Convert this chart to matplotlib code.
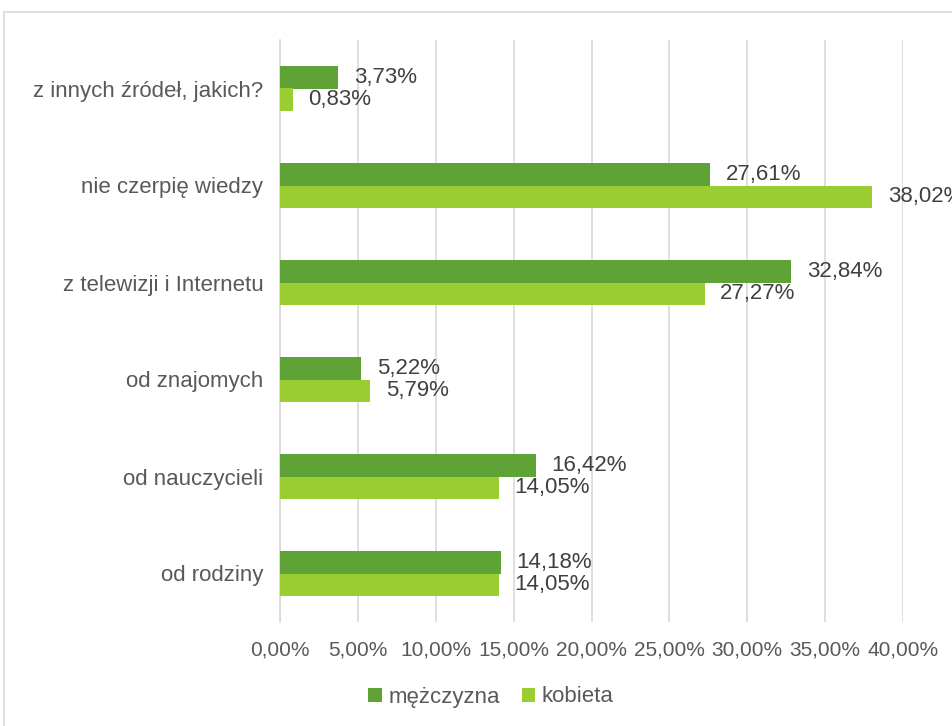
import matplotlib.pyplot as plt
import matplotlib
from matplotlib.patches import Rectangle
from matplotlib.ticker import FuncFormatter
import numpy as np

# dane
kategorie = ["od rodziny", "od nauczycieli", "od znajomych", "z telewizji i Internetu",
             "nie czerpię wiedzy", "z innych źródeł, jakich?"]
mezczyzna = [14.18, 16.42, 5.22, 32.84, 27.61, 3.73]
kobieta = [14.05, 14.05, 5.79, 27.27, 38.02, 0.83]
serie = ["mężczyzna", "kobieta"]

kolor_m = "#5FA336"
kolor_k = "#9ACD32"

matplotlib.rcParams["font.family"] = ["Liberation Sans", "DejaVu Sans"]

fig = plt.figure(figsize=(9.53, 7.26), dpi=100)
W, H = 953, 726
ax = fig.add_axes([280 / W, 1 - 622 / H, (903 - 280) / W, (622 - 40) / H])

# ramka wykresu (ucięta z prawej i od dołu)
fig.patches.append(Rectangle((4 / W, -0.1), 1.2, 1 - 12 / H + 0.1, transform=fig.transFigure,
                             fill=False, edgecolor="#D9D9D9", linewidth=1.2))

y = np.arange(len(kategorie))
h = 0.235
ax.barh(y + h / 2, mezczyzna, height=h, color=kolor_m, label=serie[0], zorder=3)
ax.barh(y - h / 2, kobieta, height=h, color=kolor_k, label=serie[1], zorder=3)

for i in range(len(kategorie)):
    ax.text(mezczyzna[i] + 1.0, y[i] + h / 2, ("%.2f%%" % mezczyzna[i]).replace(".", ","),
            va="center", ha="left", fontsize=16, color="#404040", clip_on=False)
    ax.text(kobieta[i] + 1.0, y[i] - h / 2, ("%.2f%%" % kobieta[i]).replace(".", ","),
            va="center", ha="left", fontsize=16, color="#404040", clip_on=False)

ax.set_xlim(0, 40)
ax.set_ylim(-0.5, len(kategorie) - 0.5)
ax.set_xticks(np.arange(0, 41, 5))
ax.xaxis.set_major_formatter(FuncFormatter(lambda v, p: ("%.2f%%" % v).replace(".", ",")))
ax.set_yticks(y)
ax.set_yticklabels(kategorie)
ax.tick_params(axis="x", length=0, labelsize=15, colors="#595959", pad=13)
ax.tick_params(axis="y", length=0, labelsize=16, colors="#595959", pad=12)
ax.grid(axis="x", color="#D9D9D9", linewidth=1.2, zorder=0)
for s in ["top", "right", "bottom"]:
    ax.spines[s].set_visible(False)
ax.spines["left"].set_color("#D9D9D9")
ax.spines["left"].set_linewidth(1.2)

fig.legend(loc="center", bbox_to_anchor=(491 / W, 1 - 697 / H), ncol=2, frameon=False,
           fontsize=16, labelcolor="#595959", handlelength=0.6, handleheight=0.6,
           handletextpad=0.3, columnspacing=1.0)

plt.savefig("out.png", dpi=100)
